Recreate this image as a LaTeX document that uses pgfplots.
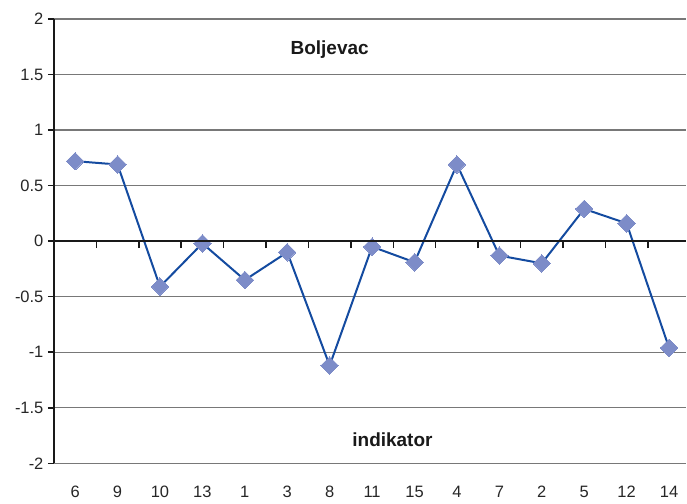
\documentclass[border=0pt]{standalone}
\usepackage{pgfplots}
\pgfplotsset{compat=1.18}
\usepackage{fontspec}
\setmainfont{Liberation Sans}
\definecolor{lineblue}{RGB}{20,75,160}
\definecolor{markblue}{RGB}{125,140,200}
\definecolor{gridgray}{RGB}{120,120,120}
\begin{document}
\begin{tikzpicture}
\begin{axis}[
  name=ax,
  scale only axis,
  width=633pt, height=445pt,
  xmin=-0.5, xmax=14.4,
  ymin=-2, ymax=2,
  ytick={-2,-1.5,...,2},
  xtick={0,...,14},
  xticklabels={6,9,10,13,1,3,8,11,15,4,7,2,5,12,14},
  axis y line*=left,
  axis x line*=bottom,
  x axis line style={draw=none},
  y axis line style={black!90, line width=2pt, -},
  xtick style={draw=none},
  ytick style={black!90, line width=1.5pt},
  tick align=outside,
  major tick length=6pt,
  ymajorgrids,
  major grid style={gridgray, line width=1.3pt},
  /pgf/number format/assume math mode=true,
  tick label style={font=\fontsize{16.5}{19}\selectfont, text=black!85},
  yticklabel style={xshift=-1pt},
  xticklabel style={yshift=-13pt},
  clip=false,
]
\addplot[lineblue, line width=2pt, mark=square*, mark size=6.2pt,
  mark options={rotate=45, fill=markblue, draw=markblue, line width=0pt}]
  coordinates {
  (0,0.72) (1,0.69) (2,-0.41) (3,-0.02) (4,-0.35) (5,-0.10) (6,-1.12)
  (7,-0.05) (8,-0.19) (9,0.69) (10,-0.13) (11,-0.20) (12,0.29) (13,0.16) (14,-0.96)
  };
\node[font=\fontsize{19}{22}\selectfont\bfseries, text=black!90] at (axis cs:6.0,1.72) {Boljevac};
\node[font=\fontsize{19}{22}\selectfont\bfseries, text=black!90] at (axis cs:7.48,-1.79) {indikator};
\end{axis}
\begin{axis}[
  scale only axis,
  width=633pt, height=445pt,
  xmin=-0.5, xmax=14.4,
  ymin=-2, ymax=2,
  axis x line=middle,
  axis y line=none,
  x axis line style={black!90, line width=2pt, -},
  xtick={0.5,1.5,...,13.5},
  xticklabels={},
  tick align=outside,
  major tick length=7pt,
  xtick style={black!90, line width=1.5pt},
]
\end{axis}
\path[use as bounding box] ([xshift=-54pt,yshift=-40pt]ax.south west) rectangle ([yshift=19pt]ax.north east);
\end{tikzpicture}
\end{document}
